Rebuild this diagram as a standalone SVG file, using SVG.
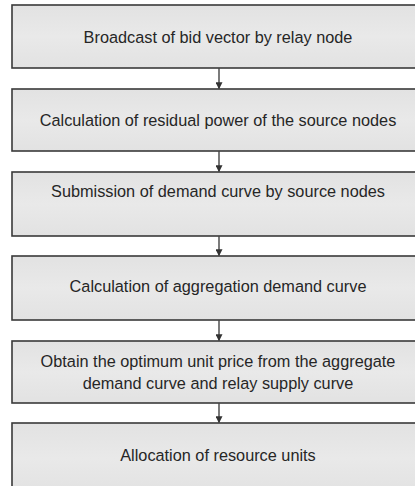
<svg xmlns="http://www.w3.org/2000/svg" width="415" height="486" viewBox="0 0 415 486">
<style>
.box{stroke:#3a3a3a;stroke-width:1.6;fill:url(#g)}
.t{font-family:"Liberation Sans",Arial,sans-serif;font-size:16.3px;fill:#262626;text-anchor:middle}
.c{stroke:#444;stroke-width:1.4;fill:none}
</style>
<defs>
<marker id="ah" viewBox="0 0 10 10" refX="9" refY="5" markerWidth="7" markerHeight="7" markerUnits="userSpaceOnUse" orient="auto">
<path d="M0,0 L10,5 L0,10 z" fill="#333"/>
</marker>
<linearGradient id="g" x1="0" y1="0" x2="0" y2="1">
<stop offset="0" stop-color="#e2e2e2"/>
<stop offset="0.5" stop-color="#e9e9e9"/>
<stop offset="1" stop-color="#e2e2e2"/>
</linearGradient>
</defs>
<rect width="415" height="486" fill="#ffffff"/>
<g id="n1"><rect class="box" x="12" y="5" width="410" height="63"/><text class="t" x="218" y="43">Broadcast of bid vector by relay node</text></g>
<g id="n2"><rect class="box" x="12" y="89" width="410" height="62"/><text class="t" x="218" y="126">Calculation of residual power of the source nodes</text></g>
<g id="n3"><rect class="box" x="12" y="172" width="410" height="64"/><text class="t" x="218" y="197">Submission of demand curve by source nodes</text></g>
<g id="n4"><rect class="box" x="12" y="256" width="410" height="64"/><text class="t" x="218" y="292">Calculation of aggregation demand curve</text></g>
<g id="n5"><rect class="box" x="12" y="341" width="410" height="62"/><text class="t" x="218" y="367">Obtain the optimum unit price from the aggregate</text><text class="t" x="218" y="389">demand curve and relay supply curve</text></g>
<g id="n6"><rect class="box" x="12" y="423" width="410" height="70"/><text class="t" x="218" y="461">Allocation of resource units</text></g>
<g id="connectors">
<line class="c" x1="219" y1="68" x2="219" y2="88.5" marker-end="url(#ah)"/>
<line class="c" x1="219" y1="151" x2="219" y2="171.5" marker-end="url(#ah)"/>
<line class="c" x1="219" y1="236" x2="219" y2="255.5" marker-end="url(#ah)"/>
<line class="c" x1="219" y1="320" x2="219" y2="340.5" marker-end="url(#ah)"/>
<line class="c" x1="219" y1="403" x2="219" y2="422.5" marker-end="url(#ah)"/>
</g>
</svg>
